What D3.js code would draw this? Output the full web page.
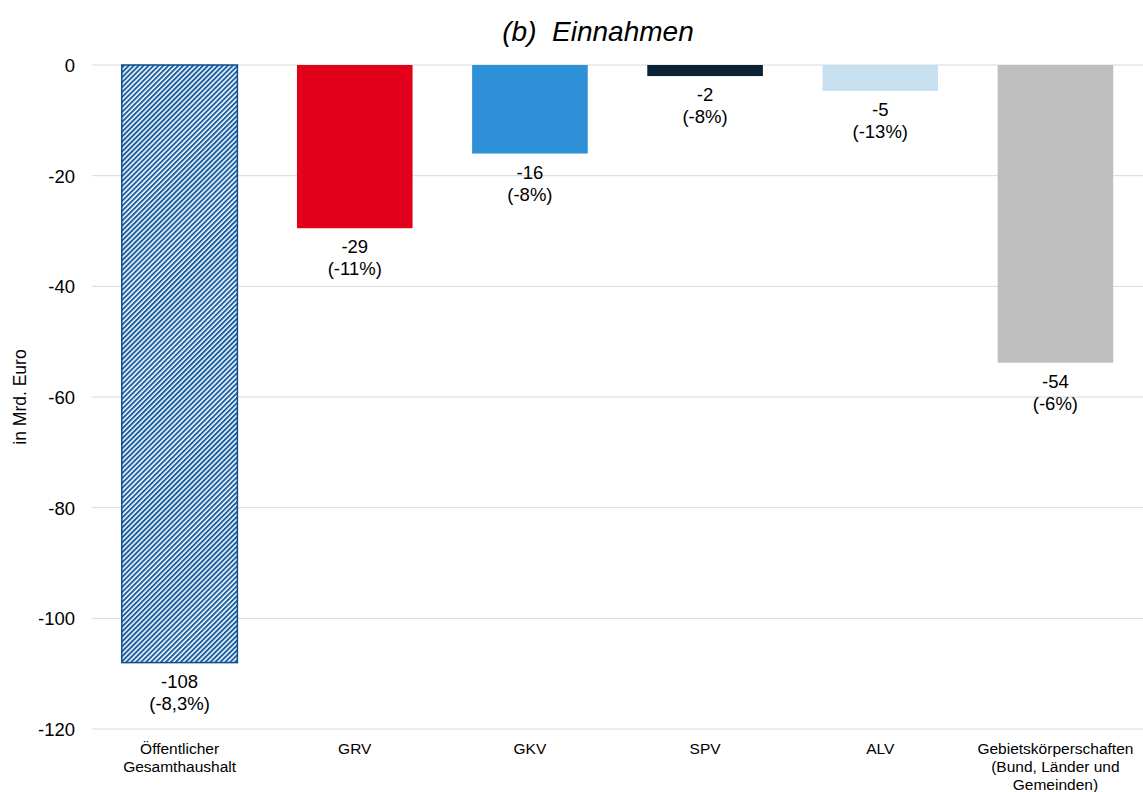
<!doctype html>
<html>
  <head>
    <script src="https://cdn.jsdelivr.net/npm/d3@7/dist/d3.min.js"></script>
    <style>
    body { margin: 0; background: #fff; }
    text { font-family: "Liberation Sans", Arial, sans-serif; fill: #000; }
    .grid line { stroke: #d9d9d9; stroke-width: 1; }
    </style>
  </head>
  <body>
    <svg id="chart" width="1143" height="792"></svg>
    <script>
      var categories = ["Öffentlicher\nGesamthaushalt", "GRV", "GKV", "SPV", "ALV", "Gebietskörperschaften\n(Bund, Länder und\nGemeinden)"];
      var values = [-108, -29.5, -16, -2, -4.7, -53.8];
      var valueLabels = ["-108", "-29", "-16", "-2", "-5", "-54"];
      var pctLabels = ["(-8,3%)", "(-11%)", "(-8%)", "(-8%)", "(-13%)", "(-6%)"];
      var colors = ["url(#hatch)", "#e2001a", "#2e90d7", "#0b2235", "#c9e0f0", "#bfbfbf"];
      var yTicks = [0, -20, -40, -60, -80, -100, -120];

      var svg = d3.select("#chart");
      var plotLeft = 92, plotRight = 1143, plotTop = 65, plotBottom = 729;

      var pat = svg.append("defs").append("pattern")
        .attr("id", "hatch")
        .attr("patternUnits", "userSpaceOnUse")
        .attr("width", 3.5).attr("height", 3.5)
        .attr("patternTransform", "rotate(45)");
      pat.append("rect").attr("width", 3.5).attr("height", 3.5).attr("fill", "#fff");
      pat.append("rect").attr("width", 2).attr("height", 3.5).attr("fill", "#1a5fa3");

      var x = d3.scaleBand()
        .domain(categories)
        .range([plotLeft, plotRight])
        .paddingInner(0.34)
        .paddingOuter(0.17);

      var y = d3.scaleLinear().domain([-120, 0]).range([plotBottom, plotTop]);

      // gridlines
      svg.append("g").attr("class", "grid")
        .selectAll("line").data(yTicks).enter().append("line")
          .attr("x1", plotLeft).attr("x2", plotRight)
          .attr("y1", d => y(d)).attr("y2", d => y(d));

      // tick labels
      svg.append("g").selectAll("text").data(yTicks).enter().append("text")
        .attr("x", 75).attr("y", d => y(d) + 7)
        .attr("text-anchor", "end")
        .style("font-size", "18.5px")
        .text(d => d);

      svg.append("text")
        .attr("transform", "translate(26," + ((plotTop + plotBottom) / 2) + ") rotate(-90)")
        .attr("text-anchor", "middle")
        .style("font-size", "17.5px")
        .text("in Mrd. Euro");

      svg.append("text")
        .attr("x", 598).attr("y", 41)
        .attr("text-anchor", "middle")
        .style("font-size", "28px").style("font-style", "italic")
        .text("(b)\u00a0\u00a0Einnahmen");

      svg.append("g").selectAll("rect").data(values).enter().append("rect")
        .attr("x", (d, i) => x(categories[i]))
        .attr("width", x.bandwidth())
        .attr("y", y(0))
        .attr("height", d => y(d) - y(0))
        .attr("fill", (d, i) => colors[i])
        .attr("stroke", (d, i) => i === 0 ? "#0b4f8f" : "none")
        .attr("stroke-width", 1.5);

      var lab = svg.append("g").selectAll("text").data(values).enter().append("text")
        .attr("text-anchor", "middle")
        .style("font-size", "18.5px")
        .attr("x", (d, i) => x(categories[i]) + x.bandwidth() / 2)
        .attr("y", d => y(d) + 25);
      lab.append("tspan").text((d, i) => valueLabels[i]);
      lab.append("tspan")
        .attr("x", (d, i) => x(categories[i]) + x.bandwidth() / 2)
        .attr("dy", 22)
        .text((d, i) => pctLabels[i]);

      // category labels
      categories.forEach(function(c) {
        var t = svg.append("text")
          .attr("text-anchor", "middle")
          .style("font-size", "15.5px")
          .attr("x", x(c) + x.bandwidth() / 2)
          .attr("y", 754);
        c.split("\n").forEach(function(line, j) {
          t.append("tspan")
            .attr("x", x(c) + x.bandwidth() / 2)
            .attr("dy", j === 0 ? 0 : 18)
            .text(line);
        });
      });
    </script>
  </body>
</html>
